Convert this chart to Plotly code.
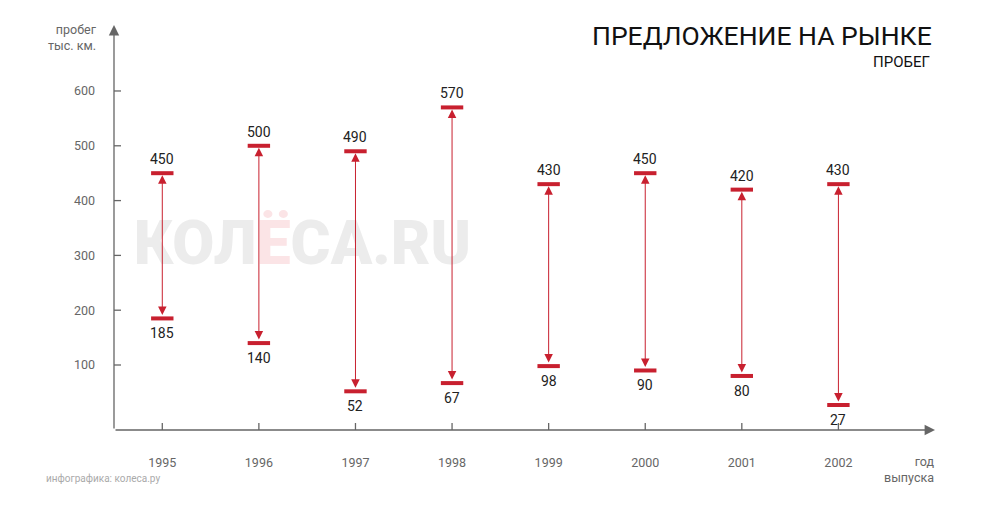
import plotly.graph_objects as go

years = [1995, 1996, 1997, 1998, 1999, 2000, 2001, 2002]
max_km = [450, 500, 490, 570, 430, 450, 420, 430]
min_km = [185, 140, 52, 67, 98, 90, 80, 27]
y_ticks = [100, 200, 300, 400, 500, 600]

RED = "#c8202f"
AX = "#666666"
XMIN, XMAX = 1994.5, 2003.0
YMIN, YMAX = -18.6, 720.4

fig = go.Figure()

# watermark (drawn first so it sits beneath everything)
fig.add_trace(go.Scatter(
    x=[1996.45], y=[312], mode="text",
    text=['КОЛ<span style="color:#fbe4e6">Ё</span>СА.RU'],
    textfont=dict(family="Roboto", size=61, color="#ececec", weight=900),
    hoverinfo="skip", cliponaxis=False))

fig.add_trace(go.Scatter(
    x=years + years, y=max_km + min_km, mode="markers",
    marker=dict(symbol="line-ew", size=16, line=dict(width=4, color=RED)),
    cliponaxis=False, hoverinfo="skip"))

ann = []
for yr, hi, lo in zip(years, max_km, min_km):
    ann.append(dict(x=yr, y=hi, ax=yr, ay=lo, xref="x", yref="y", axref="x", ayref="y",
                    text="", showarrow=True, arrowside="end+start",
                    arrowhead=2, startarrowhead=2, arrowsize=1.7, startarrowsize=1.7,
                    arrowwidth=1, arrowcolor=RED, standoff=2, startstandoff=2))
    ann.append(dict(x=yr, y=hi, xref="x", yref="y", text=str(hi), showarrow=False,
                    yshift=14, yanchor="middle",
                    font=dict(family="Roboto", size=14, color="#222222")))
    ann.append(dict(x=yr, y=lo, xref="x", yref="y", text=str(lo), showarrow=False,
                    yshift=-15, yanchor="middle",
                    font=dict(family="Roboto", size=14, color="#222222")))

# axes with arrows
ann.append(dict(x=XMIN, y=YMAX, ax=XMIN, ay=YMIN, xref="x", yref="y", axref="x", ayref="y",
                text="", showarrow=True, arrowhead=2, arrowsize=1.6, arrowwidth=1.3, arrowcolor=AX))
ann.append(dict(x=XMAX, y=YMIN, ax=XMIN, ay=YMIN, xref="x", yref="y", axref="x", ayref="y",
                text="", showarrow=True, arrowhead=2, arrowsize=1.6, arrowwidth=1.3, arrowcolor=AX))

W, H = 991, 522
L, R, T, B = 114, 56, 25, 92
px_ann = [
    dict(x=934, y=36, text="ПРЕДЛОЖЕНИЕ НА РЫНКЕ", showarrow=False,
         xanchor="right", yanchor="middle", font=dict(family="Roboto", size=26.5, color="#111111")),
    dict(x=932, y=62, text="ПРОБЕГ", showarrow=False,
         xanchor="right", yanchor="middle", font=dict(family="Roboto", size=15, color="#111111")),
    dict(x=99, y=37, text="пробег<br>тыс. км.", showarrow=False,
         xanchor="right", yanchor="middle", align="right",
         font=dict(family="Roboto", size=12.5, color=AX)),
    dict(x=936, y=469, text="год<br>выпуска", showarrow=False,
         xanchor="right", yanchor="middle", align="right",
         font=dict(family="Roboto", size=12.5, color=AX)),
    dict(x=44, y=478, text="инфографика: колеса.ру", showarrow=False,
         xanchor="left", yanchor="middle", font=dict(family="Roboto", size=10, color="#aaaaaa")),
]
for a in px_ann:
    a["xref"] = "paper"
    a["yref"] = "paper"
    a["x"] = (a["x"] - L) / (W - L - R)
    a["y"] = 1 - (a["y"] - T) / (H - T - B)
ann += px_ann

shapes = []
for v in y_ticks:
    shapes.append(dict(type="line", xref="x", yref="y", xsizemode="pixel", xanchor=XMIN,
                       x0=-7, x1=7, y0=v, y1=v, line=dict(color=AX, width=1.3)))
for yr in years:
    shapes.append(dict(type="line", xref="x", yref="y", ysizemode="pixel", yanchor=YMIN,
                       y0=-7, y1=7, x0=yr, x1=yr, line=dict(color=AX, width=1.3)))

fig.update_layout(
    width=W, height=H, margin=dict(l=L, r=R, t=T, b=B),
    paper_bgcolor="white", plot_bgcolor="white", showlegend=False,
    annotations=ann, shapes=shapes,
    xaxis=dict(range=[XMIN, XMAX], tickvals=years, ticktext=[str(y) for y in years],
               showgrid=False, zeroline=False, showline=False, ticks="",
               ticklabelstandoff=23, tickfont=dict(family="Roboto", size=12.5, color=AX)),
    yaxis=dict(range=[YMIN, YMAX], tickvals=y_ticks, ticktext=[str(v) for v in y_ticks],
               showgrid=False, zeroline=False, showline=False, ticks="",
               ticklabelstandoff=18, tickfont=dict(family="Roboto", size=12.5, color=AX)),
)

fig.write_html("out.html")
